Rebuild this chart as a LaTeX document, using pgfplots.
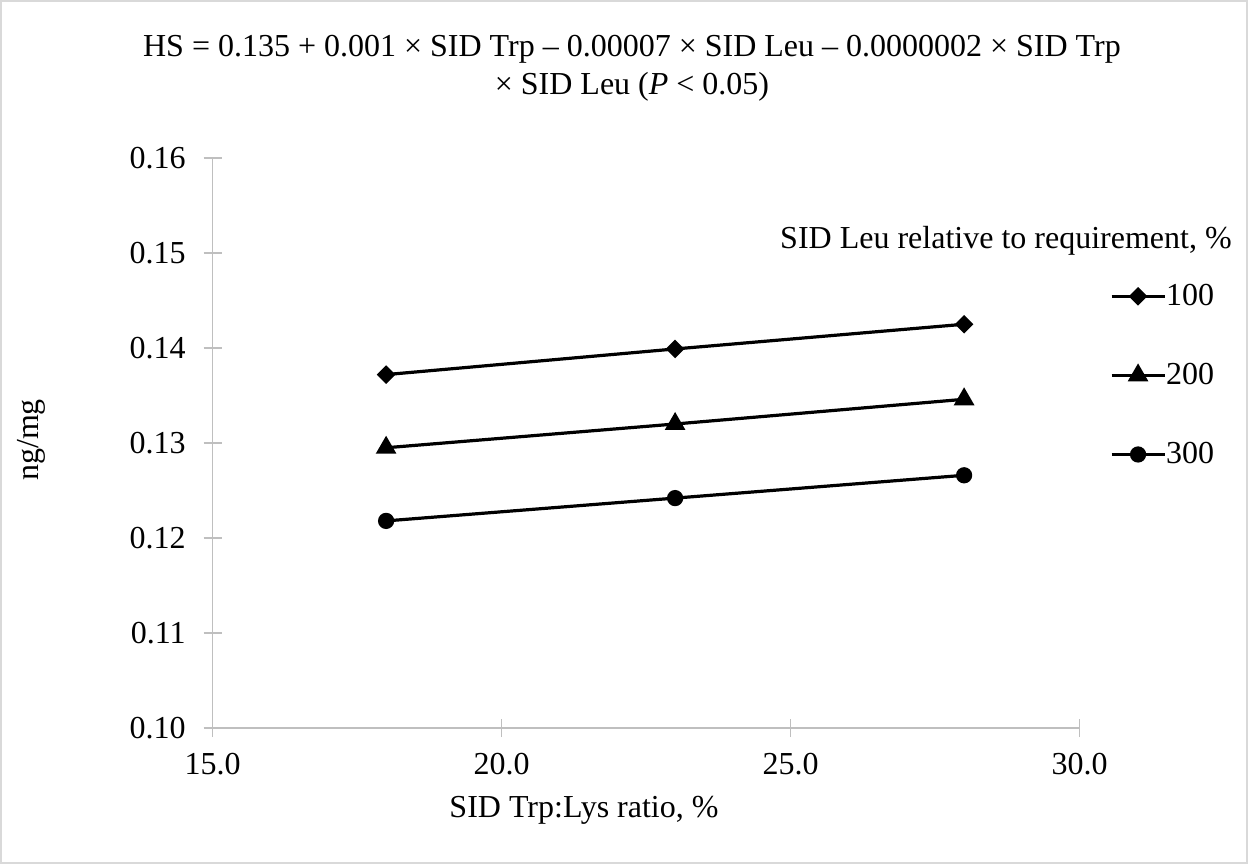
\documentclass[border=0pt]{standalone}
\usepackage{fontspec}
\setmainfont{Liberation Serif}
\usepackage{pgfplots}
\pgfplotsset{compat=1.18}
\definecolor{axisgray}{RGB}{191,191,191}
\definecolor{framegray}{RGB}{217,217,217}
\begin{document}
\begin{tikzpicture}[font=\fontsize{16bp}{19.2bp}\selectfont]
\path[use as bounding box] (0,0) rectangle (624bp,432bp);
\draw[line width=0.75bp, framegray] (0.5bp,0.5bp) rectangle (623.5bp,431.5bp);
\begin{axis}[
  at={(106.35bp,68bp)}, anchor=south west,
  width=433.5bp, height=285bp, scale only axis,
  xmin=15, xmax=30, ymin=0.10, ymax=0.16,
  xtick={15,20,25,30}, ytick={0.10,0.11,0.12,0.13,0.14,0.15,0.16},
  axis x line=bottom, axis y line=left,
  axis line style={-, line width=0.75bp, draw=axisgray},
  tick align=center, major tick length=9bp,
  every tick/.style={line width=0.75bp, axisgray},
  /pgf/number format/assume math mode=true,
  tick label style={font=\fontsize{16bp}{19.2bp}\selectfont},
  xticklabel style={/pgf/number format/.cd, fixed, fixed zerofill, precision=1, /tikz/.cd, inner sep=0pt, anchor=north, yshift=-8bp},
  yticklabel style={/pgf/number format/.cd, fixed, fixed zerofill, precision=2, /tikz/.cd, inner sep=0pt, anchor=east, xshift=-8.85bp},
  legend style={at={(axis description cs:1.0349,0.7786)}, anchor=north west, draw=none, fill=none, inner sep=0pt, outer sep=0pt, row sep=27.4bp, nodes={inner sep=0pt}, font=\fontsize{16bp}{19.2bp}\selectfont, /tikz/every even column/.append style={column sep=3bp}},
  legend cell align=left,
  legend image code/.code={\draw[mark repeat=2, mark phase=2, #1] plot coordinates {(0bp,0bp) (13.25bp,0bp) (26.5bp,0bp)};},
  clip=false,
]
\addplot[black, line width=1.6bp, mark=square*, mark size=2.5bp, mark options={rotate=45, solid}] coordinates {(18,0.1372) (23,0.1399) (28,0.1425)};
\addlegendentry{100}
\addplot[black, line width=1.6bp, mark=triangle*, mark size=4.4bp, mark options={solid}] coordinates {(18,0.1295) (23,0.1320) (28,0.1346)};
\addlegendentry{200}
\addplot[black, line width=1.6bp, mark=*, mark size=3.25bp, mark options={solid}] coordinates {(18,0.1218) (23,0.1242) (28,0.1266)};
\addlegendentry{300}
\end{axis}
\node[anchor=base, inner sep=0pt] at (316bp,403.5bp) {HS = 0.135 + 0.001 × SID Trp – 0.00007 × SID Leu – 0.0000002 × SID Trp};
\node[anchor=base, inner sep=0pt] at (316bp,384.5bp) {× SID Leu (\textit{P} < 0.05)};
\node[anchor=base, inner sep=0pt] at (292bp,23.5bp) {SID Trp:Lys ratio, \%};
\node[anchor=base, inner sep=0pt, rotate=90] at (19bp,212bp) {ng/mg};
\node[anchor=base east, inner sep=0pt] at (616bp,307.5bp) {SID Leu relative to requirement, \%};
\end{tikzpicture}
\end{document}
